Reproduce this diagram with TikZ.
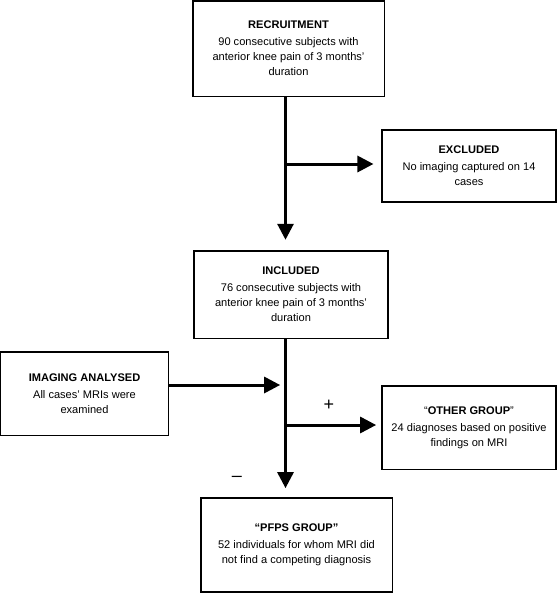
\documentclass[tikz,border=0pt]{standalone}
\usepackage{fontspec}
\setmainfont{Liberation Sans}
\usetikzlibrary{arrows.meta}
\begin{document}
\begin{tikzpicture}[x=0.75pt,y=-0.75pt,
	box/.style={draw,line width=0.8pt,align=center,inner sep=0pt,
		font=\fontsize{8.3}{11.25}\selectfont},
	flow/.style={line width=2.25pt,-{Triangle[length=12pt,width=12pt]}},
	sign/.style={font=\fontsize{13.5}{15}\selectfont,inner sep=0pt}]
	\useasboundingbox (0,0) rectangle (558,594);
	\coordinate (spine) at (285.5,0);
	% boxes
	\node[box,minimum width=143.3pt,minimum height=71.3pt] (recruit) at (288.5,48.5)
		{\textbf{RECRUITMENT}\\[1.5pt]90 consecutive subjects with\\anterior knee pain of 3 months’\\duration};
	\node[box,minimum width=130.5pt,minimum height=54pt] (excluded) at (469,166)
		{\textbf{EXCLUDED}\\[1.5pt]No imaging captured on 14\\cases};
	\node[box,minimum width=145.5pt,minimum height=65.3pt] (included) at (291,294.5)
		{\textbf{INCLUDED}\\[1.5pt]76 consecutive subjects with\\anterior knee pain of 3 months’\\duration};
	\node[box,minimum width=125.3pt,minimum height=62.3pt] (imaging) at (84.5,393.5)
		{\textbf{IMAGING ANALYSED}\\[1.5pt]All cases’ MRIs were\\examined};
	\node[box,minimum width=130.5pt,minimum height=62.3pt] (other) at (469,427.5)
		{“\textbf{OTHER GROUP}”\\[1.5pt]24 diagnoses based on positive\\findings on MRI};
	\node[box,minimum width=143.3pt,minimum height=70.5pt] (pfps) at (296.5,545)
		{\textbf{“PFPS GROUP”}\\[1.5pt]52 individuals for whom MRI did\\not find a competing diagnosis};
	% arrows
	\draw[flow,shorten >=8pt] (recruit.south -| spine) -- (included.north -| spine);
	\draw[flow,shorten >=6pt] (spine |- 0,164) -- (excluded.west |- 0,164);
	\draw[flow,shorten >=4pt] (imaging.east |- 0,385) -- (spine |- 0,385);
	\draw[flow,shorten >=4pt] (spine |- 0,425) -- (other.west |- 0,425);
	\draw[flow,shorten >=7pt] (included.south -| spine) -- (pfps.north -| spine);
	\node[sign] (plus) at (329,405) {+};
	\node[sign] (minus) at (237,479) {–};
\end{tikzpicture}
\end{document}
